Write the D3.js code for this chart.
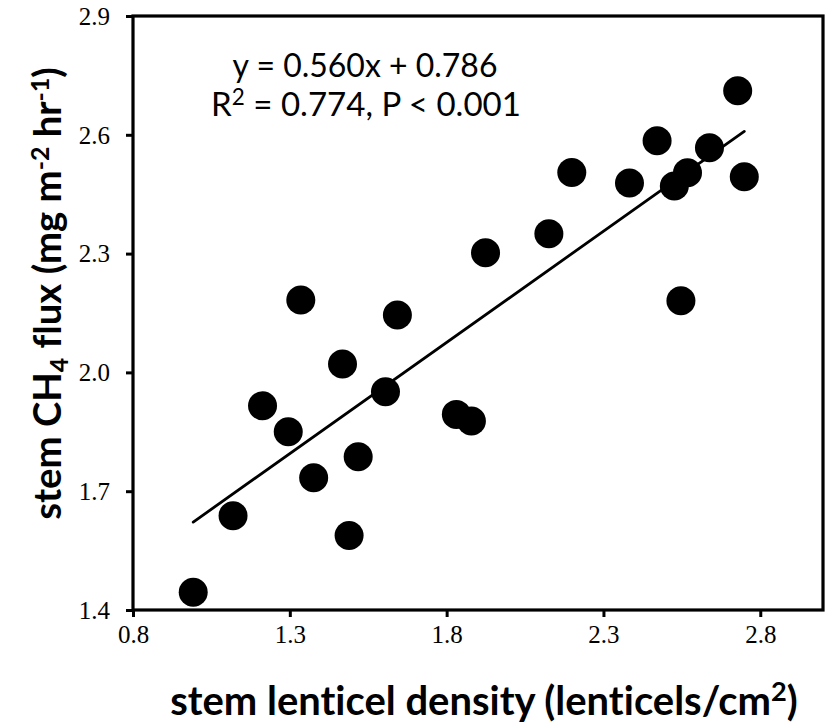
<!DOCTYPE html>
<html>
<head>
<meta charset="utf-8">
<script src="https://cdn.jsdelivr.net/npm/d3@7"></script>
<style>
  body { margin: 0; background: #fff; }
  svg { display: block; }
  text { font-variant-ligatures: none; font-feature-settings: "liga" 0; }
</style>
</head>
<body>
<svg id="chart" width="829" height="727"></svg>
<script>
// Stem lenticel density (lenticels/cm²) for each sampled stem
const lenticelDensity = [
  1.335, 1.643, 1.468, 1.605, 1.213, 1.295, 1.831, 1.879, 1.518, 1.376,
  1.119, 1.489, 0.992, 2.728, 2.471, 2.638, 2.568, 2.526, 2.749, 2.383,
  2.199, 2.126, 1.924, 2.547
];
// Stem CH4 flux (mg m-2 hr-1) for the same stems
const ch4Flux = [
  2.183, 2.145, 2.021, 1.951, 1.916, 1.850, 1.894, 1.877, 1.787, 1.734,
  1.638, 1.588, 1.445, 2.711, 2.585, 2.567, 2.504, 2.471, 2.494, 2.478,
  2.505, 2.350, 2.302, 2.181
];
const xTicks = [0.8, 1.3, 1.8, 2.3, 2.8];
const yTicks = [1.4, 1.7, 2.0, 2.3, 2.6, 2.9];
const xDomain = [0.8, 3.0];
const yDomain = [1.4, 2.9];
const equationLabel = "y = 0.560x + 0.786";
const r2Label = "0.774";
const pLabel = "P < 0.001";

const svg = d3.select("#chart");
const plot = { left: 133, right: 823, top: 16, bottom: 610 };

const x = d3.scaleLinear().domain(xDomain).range([plot.left, plot.right]);
const y = d3.scaleLinear().domain(yDomain).range([plot.bottom, plot.top]);

// Least-squares trend line over the observed density range
const n = lenticelDensity.length;
const mx = d3.mean(lenticelDensity), my = d3.mean(ch4Flux);
let sxy = 0, sxx = 0;
for (let i = 0; i < n; i++) {
  sxy += (lenticelDensity[i] - mx) * (ch4Flux[i] - my);
  sxx += (lenticelDensity[i] - mx) ** 2;
}
const slope = sxy / sxx, intercept = my - slope * mx;
const xExt = d3.extent(lenticelDensity);
const trend = xExt.map(v => [v, intercept + slope * v]);

// Axes with outward ticks
const serif = "'Liberation Serif', 'Times New Roman', serif";
const sans = "Lato, 'Open Sans', sans-serif";

const xAxis = svg.append("g")
  .attr("transform", `translate(0,${plot.bottom})`)
  .call(d3.axisBottom(x).tickValues(xTicks).tickFormat(d3.format(".1f")).tickSize(7).tickSizeOuter(0).tickPadding(6));
const yAxis = svg.append("g")
  .attr("transform", `translate(${plot.left},0)`)
  .call(d3.axisLeft(y).tickValues(yTicks).tickFormat(d3.format(".1f")).tickSize(7).tickSizeOuter(0).tickPadding(16));

[xAxis, yAxis].forEach(g => {
  g.select(".domain").remove();
  g.selectAll(".tick line").attr("stroke", "#000").attr("stroke-width", 3);
  g.selectAll(".tick text").attr("font-family", serif).attr("font-size", 25).attr("fill", "#000");
});
xAxis.selectAll(".tick text").attr("dy", "0.78em");
yAxis.selectAll(".tick text").attr("dy", "0.33em");

// Plot frame
svg.append("rect")
  .attr("x", plot.left).attr("y", plot.top)
  .attr("width", plot.right - plot.left).attr("height", plot.bottom - plot.top)
  .attr("fill", "none").attr("stroke", "#000").attr("stroke-width", 3.2);

// Trend line
svg.append("path")
  .datum(trend)
  .attr("d", d3.line().x(d => x(d[0])).y(d => y(d[1])))
  .attr("stroke", "#000").attr("stroke-width", 2.8).attr("fill", "none")
  .attr("stroke-linecap", "round");

// Points
svg.append("g").selectAll("circle")
  .data(d3.range(n))
  .join("circle")
  .attr("cx", i => x(lenticelDensity[i]))
  .attr("cy", i => y(ch4Flux[i]))
  .attr("r", 14.5)
  .attr("fill", "#000");

// Scale a text element's font so it spans the given width
function fitWidth(sel, width) {
  const fs = parseFloat(sel.attr("font-size"));
  const w = sel.node().getComputedTextLength();
  sel.attr("font-size", fs * width / w);
}

// Regression annotation
const eq1 = svg.append("text")
  .attr("x", 365).attr("y", 77)
  .attr("text-anchor", "middle")
  .attr("font-family", sans).attr("font-size", 28).attr("fill", "#000")
  .text(equationLabel);
fitWidth(eq1, 265);
const eq2 = svg.append("text")
  .attr("x", 366).attr("y", 116)
  .attr("text-anchor", "middle")
  .attr("font-family", sans).attr("font-size", 28).attr("fill", "#000");
eq2.append("tspan").text("R");
eq2.append("tspan").attr("font-size", "68%").attr("dy", "-0.5em").text("2");
eq2.append("tspan").attr("dy", "0.34em").text(` = ${r2Label}, ${pLabel}`);
fitWidth(eq2, 310);

// X axis title
const xTitle = svg.append("text")
  .attr("x", 484).attr("y", 715)
  .attr("text-anchor", "middle")
  .attr("font-family", sans).attr("font-weight", "bold")
  .attr("font-size", 30).attr("fill", "#000");
xTitle.append("tspan").text("stem lenticel density (lenticels/cm");
xTitle.append("tspan").attr("font-size", "68%").attr("dy", "-0.5em").text("2");
xTitle.append("tspan").attr("dy", "0.34em").text(")");
fitWidth(xTitle, 628);

// Y axis title with sub- and superscripts
const yTitle = svg.append("text")
  .attr("transform", "translate(61,293.5) rotate(-90)")
  .attr("text-anchor", "middle")
  .attr("font-family", sans).attr("font-weight", "bold")
  .attr("font-size", 30).attr("fill", "#000");
yTitle.append("tspan").text("stem CH");
yTitle.append("tspan").attr("font-size", "65%").attr("dy", "0.3em").text("4");
yTitle.append("tspan").attr("dy", "-0.195em").text(" flux (mg m");
yTitle.append("tspan").attr("font-size", "65%").attr("dy", "-0.5em").text("-2");
yTitle.append("tspan").attr("dy", "0.325em").text(" hr");
yTitle.append("tspan").attr("font-size", "65%").attr("dy", "-0.5em").text("-1");
yTitle.append("tspan").attr("dy", "0.325em").text(")");
fitWidth(yTitle, 453);
</script>
</body>
</html>
